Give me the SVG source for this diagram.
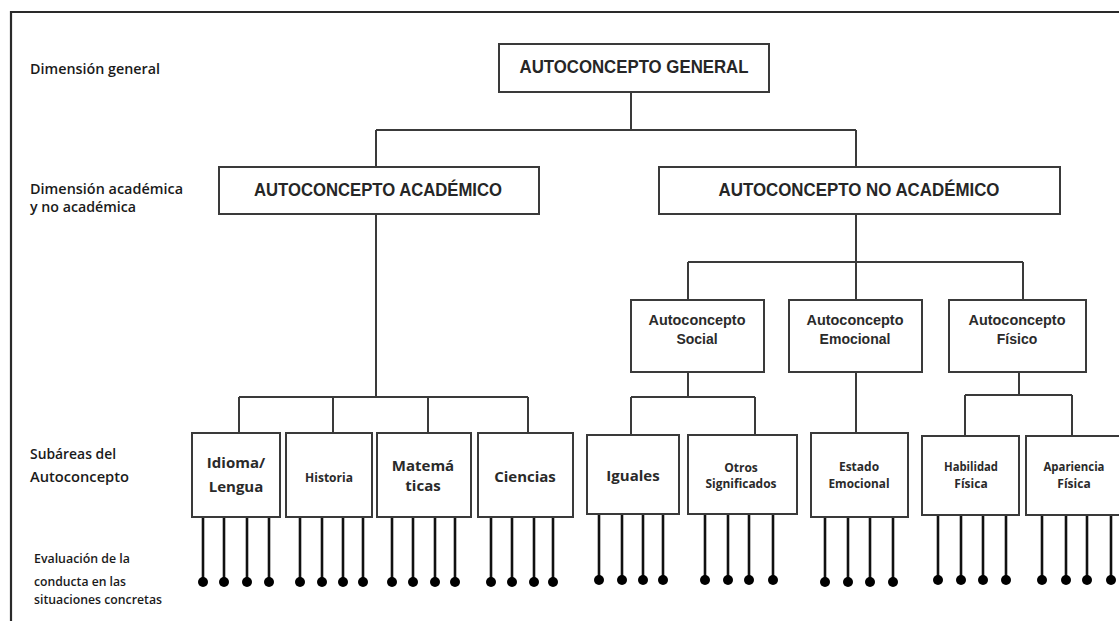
<svg xmlns="http://www.w3.org/2000/svg" width="1119" height="621" viewBox="0 0 1119 621">
<defs>
<style>
.box{fill:#fff;stroke:#3a3a3a;stroke-width:2}
.ln{stroke:#3a3a3a;stroke-width:2;fill:none}
.stem{stroke:#111;stroke-width:2.6}
.dot{fill:#000}
.lbl{font-family:"Open Sans","Noto Sans","Liberation Sans",sans-serif;fill:#1a1a1a;font-weight:600}
.big{font-family:"Liberation Sans",Arial,sans-serif;font-weight:bold;fill:#262626;font-size:18px;text-anchor:middle}
.mid{font-family:"Liberation Sans",Arial,sans-serif;font-weight:bold;fill:#2a2a2a;font-size:14px;text-anchor:middle}
.sub{font-family:"Open Sans","Noto Sans","Liberation Sans",sans-serif;font-weight:bold;fill:#2a2a2a;text-anchor:middle}
</style>
</defs>
<rect width="1119" height="621" fill="#fff"/>
<path d="M11 621 V12 H1119" stroke="#2a2a2a" stroke-width="2.2" fill="none"/>

<g id="labels">
<text class="lbl" x="30" y="74" font-size="14" textLength="130" lengthAdjust="spacingAndGlyphs">Dimensión general</text>
<text class="lbl" x="30" y="194" font-size="14" textLength="153" lengthAdjust="spacingAndGlyphs">Dimensión académica</text>
<text class="lbl" x="30" y="212" font-size="14" textLength="106" lengthAdjust="spacingAndGlyphs">y no académica</text>
<text class="lbl" x="30" y="459" font-size="15" textLength="86" lengthAdjust="spacingAndGlyphs">Subáreas del</text>
<text class="lbl" x="30" y="482" font-size="15" textLength="99" lengthAdjust="spacingAndGlyphs">Autoconcepto</text>
<text class="lbl" x="34" y="563" font-size="12" textLength="96" lengthAdjust="spacingAndGlyphs">Evaluación de la</text>
<text class="lbl" x="34" y="586" font-size="12" textLength="92" lengthAdjust="spacingAndGlyphs">conducta en las</text>
<text class="lbl" x="34" y="604" font-size="12" textLength="128" lengthAdjust="spacingAndGlyphs">situaciones concretas</text>
</g>

<g id="connectors">
<path class="ln" d="M631 92 V130 M376 130 H856 M376 130 V167 M856 130 V167"/>
<path class="ln" d="M376 214 V397 M239 397 H528 M239 397 V433 M333 397 V433 M428 397 V433 M528 397 V433"/>
<path class="ln" d="M856 214 V262 M688 262 H1023 M688 262 V300 M856 262 V300 M1023 262 V300"/>
<path class="ln" d="M688 372 V397 M631 397 H755 M631 397 V435 M755 397 V435"/>
<path class="ln" d="M856 372 V433"/>
<path class="ln" d="M1019 372 V395 M965 395 H1072 M965 395 V436 M1072 395 V436"/>
<g id="stems">
<path class="stem" d="M203 517V582M224 517V582M247 517V582M269 517V582M300 517V582M322 517V582M343 517V582M363 517V582M392 517V582M413 517V582M435 517V582M455 517V582M491 517V582M512 517V582M534 517V582M553 517V582"/>
<path class="stem" d="M599 514V580M622 514V580M643 514V580M663 514V580M705 514V580M728 514V580M749 514V580M773 514V580"/>
<path class="stem" d="M825 517V582M848 517V582M870 517V582M893 517V582"/>
<path class="stem" d="M938 515V580M961 515V580M983 515V580M1006 515V580M1042 515V580M1066 515V580M1087 515V580M1111 515V580"/>
</g>
<g id="dots" class="dot">
<circle cx="203" cy="582" r="5"/><circle cx="224" cy="582" r="5"/><circle cx="247" cy="582" r="5"/><circle cx="269" cy="582" r="5"/>
<circle cx="300" cy="582" r="5"/><circle cx="322" cy="582" r="5"/><circle cx="343" cy="582" r="5"/><circle cx="363" cy="582" r="5"/>
<circle cx="392" cy="582" r="5"/><circle cx="413" cy="582" r="5"/><circle cx="435" cy="582" r="5"/><circle cx="455" cy="582" r="5"/>
<circle cx="491" cy="582" r="5"/><circle cx="512" cy="582" r="5"/><circle cx="534" cy="582" r="5"/><circle cx="553" cy="582" r="5"/>
<circle cx="599" cy="580" r="5"/><circle cx="622" cy="580" r="5"/><circle cx="643" cy="580" r="5"/><circle cx="663" cy="580" r="5"/>
<circle cx="705" cy="580" r="5"/><circle cx="728" cy="580" r="5"/><circle cx="749" cy="580" r="5"/><circle cx="773" cy="580" r="5"/>
<circle cx="825" cy="582" r="5"/><circle cx="848" cy="582" r="5"/><circle cx="870" cy="582" r="5"/><circle cx="893" cy="582" r="5"/>
<circle cx="938" cy="580" r="5"/><circle cx="961" cy="580" r="5"/><circle cx="983" cy="580" r="5"/><circle cx="1006" cy="580" r="5"/>
<circle cx="1042" cy="580" r="5"/><circle cx="1066" cy="580" r="5"/><circle cx="1087" cy="580" r="5"/><circle cx="1111" cy="580" r="5"/>
</g>
</g>

<g id="general">
<rect class="box" x="499" y="44" width="270" height="48"/>
<text class="big" x="634" y="73" textLength="229" lengthAdjust="spacingAndGlyphs">AUTOCONCEPTO GENERAL</text>
</g>
<g id="academico">
<rect class="box" x="219" y="167" width="320" height="47"/>
<text class="big" x="378" y="196" textLength="248" lengthAdjust="spacingAndGlyphs">AUTOCONCEPTO ACADÉMICO</text>
</g>
<g id="noacademico">
<rect class="box" x="659" y="167" width="401" height="47"/>
<text class="big" x="859" y="196" textLength="281" lengthAdjust="spacingAndGlyphs">AUTOCONCEPTO NO ACADÉMICO</text>
</g>

<g id="social">
<rect class="box" x="631" y="300" width="133" height="72"/>
<text class="mid" x="697" y="325" textLength="97" lengthAdjust="spacingAndGlyphs">Autoconcepto</text>
<text class="mid" x="697" y="344">Social</text>
</g>
<g id="emocional">
<rect class="box" x="789" y="300" width="133" height="72"/>
<text class="mid" x="855" y="325" textLength="97" lengthAdjust="spacingAndGlyphs">Autoconcepto</text>
<text class="mid" x="855" y="344">Emocional</text>
</g>
<g id="fisico">
<rect class="box" x="949" y="300" width="137" height="72"/>
<text class="mid" x="1017" y="325" textLength="97" lengthAdjust="spacingAndGlyphs">Autoconcepto</text>
<text class="mid" x="1017" y="344">Físico</text>
</g>

<g id="idioma">
<rect class="box" x="192" y="433" width="88" height="84"/>
<text class="sub" x="236" y="468" font-size="15">Idioma/</text>
<text class="sub" x="236" y="492" font-size="15">Lengua</text>
</g>
<g id="historia">
<rect class="box" x="286" y="433" width="86" height="84"/>
<text class="sub" x="329" y="482" font-size="12">Historia</text>
</g>
<g id="matematicas">
<rect class="box" x="377" y="433" width="94" height="84"/>
<text class="sub" x="423" y="471" font-size="15">Matemá</text>
<text class="sub" x="423" y="491" font-size="15">ticas</text>
</g>
<g id="ciencias">
<rect class="box" x="478" y="433" width="95" height="84"/>
<text class="sub" x="525" y="482" font-size="15">Ciencias</text>
</g>
<g id="iguales">
<rect class="box" x="587" y="435" width="92" height="79"/>
<text class="sub" x="633" y="481" font-size="15">Iguales</text>
</g>
<g id="otros">
<rect class="box" x="688" y="435" width="109" height="79"/>
<text class="sub" x="741" y="472" font-size="12">Otros</text>
<text class="sub" x="741" y="488" font-size="12" textLength="71" lengthAdjust="spacingAndGlyphs">Significados</text>
</g>
<g id="estado">
<rect class="box" x="811" y="433" width="97" height="84"/>
<text class="sub" x="859" y="471" font-size="12">Estado</text>
<text class="sub" x="859" y="488" font-size="12" textLength="61" lengthAdjust="spacingAndGlyphs">Emocional</text>
</g>
<g id="habilidad">
<rect class="box" x="922" y="436" width="97" height="79"/>
<text class="sub" x="971" y="471" font-size="12" textLength="54" lengthAdjust="spacingAndGlyphs">Habilidad</text>
<text class="sub" x="971" y="488" font-size="12">Física</text>
</g>
<g id="apariencia">
<rect class="box" x="1026" y="436" width="100" height="79"/>
<text class="sub" x="1074" y="471" font-size="12" textLength="61" lengthAdjust="spacingAndGlyphs">Apariencia</text>
<text class="sub" x="1074" y="488" font-size="12">Física</text>
</g>
</svg>
